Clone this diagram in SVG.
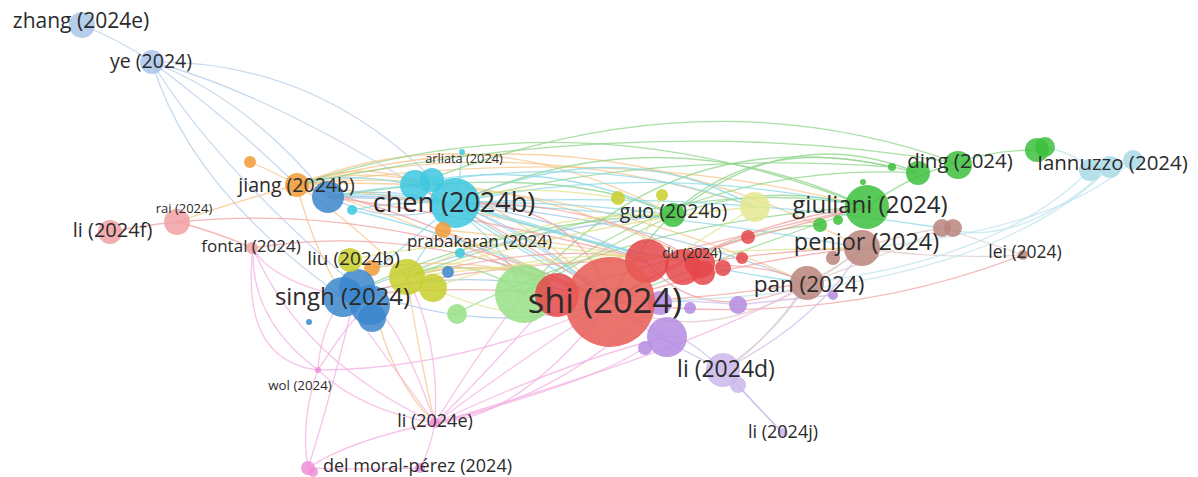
<svg xmlns="http://www.w3.org/2000/svg" width="1198" height="477" viewBox="0 0 1198 477">
<style>
.lbl{font-family:"Open Sans","Liberation Sans",sans-serif;fill:#2b2b2b;text-anchor:middle}
.c{fill-opacity:.85}
.lb{fill:#a9c6e8}.or{fill:#f29b36}.bu{fill:#3b87cc}.cy{fill:#3cc8e0}.ye{fill:#c8cf2c}
.lg{fill:#98e087}.gr{fill:#3cbf3c}.re{fill:#e5474a}.rr{fill:#e85a55}.pu{fill:#b48be0}
.la{fill:#cbb7ea}.br{fill:#b9857c}.ly{fill:#e4e88f}.pk{fill:#ef8fd8}.lr{fill:#f0a0a2}.lc{fill:#a8dbe8}
#connectors path{fill:none;stroke-width:1.3;stroke-opacity:.75}
.ebl{stroke:#b5cde8}.eor{stroke:#f6c58a}.egr{stroke:#8fd48a}.ecy{stroke:#8ad8e6}.ere{stroke:#f2a0a0}
.epk{stroke:#f3b0e3}.epu{stroke:#cdbbe9}.ebr{stroke:#dccac4}.eye{stroke:#e2e28a}.elc{stroke:#bfe3ec}.ebu{stroke:#9cc3e6}
</style>
<rect width="1198" height="477" fill="#ffffff"/>
<g id="connectors">
<path class="ebl" d="M82,25 Q120,40 152,62"/>
<path class="ebl" d="M152,62 Q330,60 455,203"/>
<path class="ebl" d="M152,62 Q250,100 328,197"/>
<path class="ebl" d="M152,62 Q230,120 297,185"/>
<path class="ebl" d="M152,62 Q190,190 343,297"/>
<path class="ebl" d="M152,62 Q260,90 415,185"/>
<path class="ebl" d="M152,62 Q210,160 357,287"/>
<path class="ebu" d="M328,197 Q470,170 610,302"/>
<path class="ebu" d="M328,197 Q400,230 455,203"/>
<path class="ebu" d="M328,197 Q500,190 645,260"/>
<path class="ebu" d="M343,297 Q480,260 610,302"/>
<path class="ebu" d="M357,287 Q480,340 610,302"/>
<path class="ebu" d="M343,297 Q500,230 673,215"/>
<path class="ebu" d="M328,197 Q600,200 807,283"/>
<path class="eor" d="M297,185 Q460,140 610,302"/>
<path class="eor" d="M297,185 Q480,110 673,215"/>
<path class="eor" d="M297,185 Q590,100 862,248"/>
<path class="eor" d="M297,185 Q560,170 807,283"/>
<path class="eor" d="M297,185 Q470,200 645,260"/>
<path class="eor" d="M297,185 Q310,240 343,297"/>
<path class="eor" d="M297,185 Q350,220 407,277"/>
<path class="eor" d="M250,162 Q270,170 297,185"/>
<path class="eor" d="M297,185 Q240,200 177,222"/>
<path class="eor" d="M297,185 Q520,130 755,207"/>
<path class="eor" d="M443,230 Q520,260 610,302"/>
<path class="eor" d="M297,185 Q380,150 455,203"/>
<path class="eor" d="M372,268 Q500,250 610,302"/>
<path class="eor" d="M373,300 Q390,380 435,423"/>
<path class="eor" d="M407,277 Q420,360 435,423"/>
<path class="eor" d="M297,185 Q450,230 557,295"/>
<path class="eor" d="M297,185 Q500,160 700,263"/>
<path class="eor" d="M443,230 Q560,240 645,260"/>
<path class="eor" d="M297,185 Q620,140 867,207"/>
<path class="egr" d="M867,207 Q660,110 455,203"/>
<path class="egr" d="M957,163 Q700,70 415,185"/>
<path class="egr" d="M867,207 Q580,90 297,185"/>
<path class="egr" d="M673,215 Q770,180 867,207"/>
<path class="egr" d="M918,173 Q790,120 673,215"/>
<path class="egr" d="M867,207 Q740,250 610,302"/>
<path class="egr" d="M673,215 Q500,220 343,297"/>
<path class="egr" d="M524,293 Q460,250 407,277"/>
<path class="egr" d="M524,293 Q620,240 673,215"/>
<path class="egr" d="M1037,150 Q990,150 957,163"/>
<path class="egr" d="M957,163 Q910,175 867,207"/>
<path class="egr" d="M820,225 Q720,230 610,302"/>
<path class="egr" d="M610,302 Q700,120 892,167"/>
<path class="egr" d="M524,293 Q680,110 918,173"/>
<path class="egr" d="M457,313 Q640,220 867,207"/>
<path class="egr" d="M673,215 Q560,160 328,197"/>
<path class="egr" d="M892,167 Q650,150 455,203"/>
<path class="egr" d="M918,173 Q700,160 524,294"/>
<path class="egr" d="M867,207 Q700,170 407,277"/>
<path class="egr" d="M957,163 Q650,110 297,185"/>
<path class="ecy" d="M455,203 Q540,240 610,302"/>
<path class="ecy" d="M455,203 Q400,250 343,297"/>
<path class="ecy" d="M455,203 Q390,190 328,197"/>
<path class="ecy" d="M455,203 Q560,200 673,215"/>
<path class="ecy" d="M455,203 Q560,230 645,260"/>
<path class="ecy" d="M455,203 Q660,210 862,248"/>
<path class="ecy" d="M455,203 Q430,240 407,277"/>
<path class="ecy" d="M415,185 Q360,190 328,197"/>
<path class="ecy" d="M415,185 Q520,250 610,302"/>
<path class="ecy" d="M455,203 Q650,160 867,207"/>
<path class="ecy" d="M462,152 Q460,180 455,203"/>
<path class="ecy" d="M352,210 Q400,200 455,203"/>
<path class="ecy" d="M460,253 Q530,270 610,302"/>
<path class="ecy" d="M455,203 Q640,260 807,283"/>
<path class="ecy" d="M415,185 Q340,170 297,185"/>
<path class="ecy" d="M455,203 Q620,130 755,207"/>
<path class="ecy" d="M455,203 Q600,250 700,263"/>
<path class="ecy" d="M455,203 Q560,280 660,303"/>
<path class="ecy" d="M432,180 Q560,160 673,215"/>
<path class="ecy" d="M415,185 Q600,150 755,207"/>
<path class="ecy" d="M455,203 Q700,190 942,228"/>
<path class="ecy" d="M352,210 Q480,240 610,302"/>
<path class="ecy" d="M415,185 Q500,230 524,294"/>
<path class="ere" d="M610,302 Q740,260 862,248"/>
<path class="ere" d="M610,302 Q700,300 807,283"/>
<path class="ere" d="M610,302 Q740,220 867,207"/>
<path class="ere" d="M610,302 Q480,280 343,297"/>
<path class="ere" d="M610,302 Q500,250 407,277"/>
<path class="ere" d="M610,302 Q420,220 253,248"/>
<path class="ere" d="M610,302 Q400,200 177,222"/>
<path class="ere" d="M177,222 Q145,225 110,232"/>
<path class="ere" d="M610,302 Q830,330 1023,255"/>
<path class="ere" d="M645,260 Q760,230 867,207"/>
<path class="ere" d="M700,263 Q780,250 862,248"/>
<path class="ere" d="M645,260 Q500,220 328,197"/>
<path class="ere" d="M700,263 Q600,200 455,203"/>
<path class="ere" d="M645,260 Q700,330 807,283"/>
<path class="ere" d="M253,248 Q210,230 177,222"/>
<path class="ere" d="M557,293 Q450,220 297,185"/>
<path class="ere" d="M610,302 Q580,200 455,203"/>
<path class="ere" d="M748,237 Q680,260 610,302"/>
<path class="ere" d="M557,293 Q700,250 867,207"/>
<path class="ere" d="M647,261 Q560,240 407,277"/>
<path class="ere" d="M610,302 Q560,260 415,185"/>
<path class="ere" d="M683,267 Q760,260 807,283"/>
<path class="ere" d="M647,261 Q500,260 343,297"/>
<path class="epk" d="M435,423 Q380,350 343,297"/>
<path class="epk" d="M435,423 Q520,360 610,302"/>
<path class="epk" d="M435,423 Q440,340 407,277"/>
<path class="epk" d="M435,423 Q480,350 524,293"/>
<path class="epk" d="M435,423 Q300,360 253,248"/>
<path class="epk" d="M435,423 Q360,410 318,370"/>
<path class="epk" d="M435,423 Q350,440 308,468"/>
<path class="epk" d="M435,423 Q430,450 420,468"/>
<path class="epk" d="M435,423 Q570,360 667,337"/>
<path class="epk" d="M318,370 Q320,330 343,297"/>
<path class="epk" d="M318,370 Q250,320 253,248"/>
<path class="epk" d="M318,370 Q300,420 308,468"/>
<path class="epk" d="M318,370 Q350,320 370,303"/>
<path class="epk" d="M308,468 Q360,470 420,468"/>
<path class="epk" d="M253,248 Q270,280 343,297"/>
<path class="epk" d="M318,370 Q460,370 610,302"/>
<path class="epk" d="M253,248 Q240,360 318,370"/>
<path class="epk" d="M435,423 Q600,380 645,347"/>
<path class="epk" d="M435,423 Q560,400 657,302"/>
<path class="epk" d="M435,423 Q400,320 357,287"/>
<path class="epk" d="M610,302 Q520,420 435,423"/>
<path class="epk" d="M557,293 Q480,380 435,423"/>
<path class="epk" d="M357,287 Q330,400 308,468"/>
<path class="epk" d="M435,423 Q720,340 807,283"/>
<path class="epu" d="M723,370 Q680,330 667,337"/>
<path class="epu" d="M723,370 Q640,330 610,302"/>
<path class="epu" d="M723,370 Q780,330 807,283"/>
<path class="epu" d="M723,370 Q760,410 783,433"/>
<path class="epu" d="M738,385 Q770,420 783,433"/>
<path class="epu" d="M667,337 Q640,320 610,302"/>
<path class="epu" d="M738,305 Q700,300 657,302"/>
<path class="epu" d="M723,370 Q820,320 862,248"/>
<path class="epu" d="M833,295 Q780,300 738,305"/>
<path class="epu" d="M660,303 Q620,300 557,295"/>
<path class="ebr" d="M862,248 Q940,260 1023,255"/>
<path class="ebr" d="M807,283 Q900,250 942,228"/>
<path class="ebr" d="M862,248 Q900,235 942,228"/>
<path class="ebr" d="M807,283 Q760,350 723,370"/>
<path class="ebr" d="M942,228 Q980,240 1023,255"/>
<path class="ebr" d="M807,283 Q850,260 862,248"/>
<path class="ebr" d="M610,302 Q720,360 862,248"/>
<path class="elc" d="M1090,170 Q1000,260 807,283"/>
<path class="elc" d="M1110,167 Q980,300 610,302"/>
<path class="elc" d="M1045,147 Q1080,155 1090,170"/>
<path class="elc" d="M1133,160 Q1060,230 862,248"/>
<path class="elc" d="M1110,167 Q1020,250 942,228"/>
<path class="eye" d="M407,277 Q500,250 610,302"/>
<path class="eye" d="M407,277 Q530,210 673,215"/>
<path class="eye" d="M755,207 Q680,250 610,302"/>
<path class="eye" d="M618,198 Q500,180 455,203"/>
<path class="eye" d="M662,195 Q640,250 610,302"/>
<path class="eye" d="M350,260 Q480,230 645,260"/>
<path class="eye" d="M407,277 Q600,220 755,207"/>
<path class="eye" d="M433,288 Q520,330 610,302"/>
<path class="eye" d="M433,288 Q560,240 700,263"/>
<path class="eye" d="M407,277 Q640,250 862,248"/>
</g>
<g id="n-bg-small">
<circle class="c or" cx="250" cy="162" r="6"/>
<circle class="c bu" cx="328" cy="197" r="16"/>
<circle class="c cy" cx="352" cy="210" r="5"/>
<circle class="c cy" cx="460" cy="253" r="5"/>
<circle class="c bu" cx="448" cy="272" r="6"/>
<circle class="c bu" cx="309" cy="322" r="3"/>
<circle class="c ye" cx="618" cy="198" r="7"/>
<circle class="c ye" cx="662" cy="195" r="6"/>
<circle class="c ly" cx="755" cy="207" r="15"/>
<circle class="c gr" cx="820" cy="225" r="7"/>
<circle class="c gr" cx="838" cy="220" r="5"/>
<circle class="c gr" cx="863" cy="182" r="3"/>
<circle class="c gr" cx="892" cy="167" r="4"/>
<circle class="c gr" cx="1037" cy="150" r="12"/>
<circle class="c gr" cx="1045" cy="147" r="10"/>
<circle class="c br" cx="833" cy="258" r="7"/>
<circle class="c br" cx="942" cy="228" r="9"/>
<circle class="c br" cx="953" cy="228" r="9"/>
<circle class="c pu" cx="833" cy="295" r="5"/>
<circle class="c pk" cx="420" cy="468" r="5"/>
</g>
<g id="n-yellow">
<circle class="c ye" cx="407" cy="277" r="18"/>
<circle class="c ye" cx="433" cy="288" r="14"/>
<circle class="c or" cx="372" cy="268" r="8"/>
</g>
<g id="n-lightgreen">
<circle class="c lg" cx="457" cy="314" r="10"/>
<circle class="c lg" cx="524" cy="294" r="29"/>
</g>
<g id="n-red-cluster">
<circle class="c re" cx="647" cy="261" r="22"/>
<circle class="c re" cx="683" cy="267" r="18"/>
<circle class="c re" cx="703" cy="273" r="12"/>
<circle class="c re" cx="723" cy="268" r="8"/>
<circle class="c re" cx="748" cy="237" r="7"/>
<circle class="c re" cx="742" cy="258" r="6"/>
<circle class="c re" cx="557" cy="295" r="22"/>
</g>
<g id="n-purple">
<circle class="c pu" cx="660" cy="303" r="12"/>
<circle class="c pu" cx="690" cy="308" r="6"/>
<circle class="c pu" cx="738" cy="305" r="9"/>
<circle class="c pu" cx="667" cy="337" r="20"/>
<circle class="c pu" cx="645" cy="348" r="7"/>
</g>
<g id="n-zhang"><circle class="c lb" cx="82" cy="25" r="13"/><text class="lbl" x="81" y="28" font-size="21">zhang (2024e)</text></g>
<g id="n-ye"><circle class="c lb" cx="152" cy="62" r="12"/><text class="lbl" x="151" y="68" font-size="19.5">ye (2024)</text></g>
<g id="n-jiang"><circle class="c or" cx="297" cy="185" r="12"/><text class="lbl" x="296.5" y="192" font-size="19.5">jiang (2024b)</text></g>
<g id="n-rai"><circle class="c lr" cx="177" cy="222" r="13"/><text class="lbl" x="184" y="213" font-size="13">rai (2024)</text></g>
<g id="n-lif"><circle class="c lr" cx="110" cy="232" r="12"/><text class="lbl" x="112.5" y="237" font-size="20">li (2024f)</text></g>
<g id="n-fontal"><circle class="c lr" cx="252" cy="248" r="6"/><text class="lbl" x="251" y="252" font-size="17">fontal (2024)</text></g>
<g id="n-chen"><circle class="c cy" cx="415" cy="185" r="15"/><circle class="c cy" cx="432" cy="180" r="12"/><circle class="c cy" cx="455" cy="203" r="25"/><text class="lbl" x="454" y="212" font-size="27">chen (2024b)</text></g>
<g id="n-arliata"><circle class="c cy" cx="462" cy="152" r="3"/><text class="lbl" x="464" y="163" font-size="12.8">arliata (2024)</text></g>
<g id="n-prabakaran"><circle class="c or" cx="443" cy="230" r="8"/><text class="lbl" x="479.5" y="247" font-size="17">prabakaran (2024)</text></g>
<g id="n-singh"><circle class="c bu" cx="357" cy="287" r="18"/><circle class="c bu" cx="343" cy="297" r="20"/><circle class="c bu" cx="370" cy="305" r="20"/><circle class="c bu" cx="372" cy="318" r="14"/><text class="lbl" x="342.5" y="305" font-size="24">singh (2024)</text></g>
<g id="n-liu"><circle class="c ye" cx="350" cy="260" r="12"/><text class="lbl" x="353.5" y="265" font-size="19">liu (2024b)</text></g>
<g id="n-guo"><circle class="c gr" cx="673" cy="215" r="12"/><text class="lbl" x="673.5" y="218" font-size="19.5">guo (2024b)</text></g>
<g id="n-du"><circle class="c re" cx="700" cy="263" r="15"/><text class="lbl" x="692" y="258" font-size="13.7">du (2024)</text></g>
<g id="n-shi"><circle class="c rr" cx="610" cy="302" r="45"/><text class="lbl" x="605" y="313" font-size="34.5">shi (2024)</text></g>
<g id="n-giuliani"><circle class="c gr" cx="867" cy="207" r="22"/><text class="lbl" x="870" y="213" font-size="24">giuliani (2024)</text></g>
<g id="n-penjor"><circle class="c br" cx="862" cy="248" r="18"/><text class="lbl" x="866.5" y="250" font-size="23.5">penjor (2024)</text></g>
<g id="n-pan"><circle class="c br" cx="807" cy="283" r="17"/><text class="lbl" x="809" y="292" font-size="22.5">pan (2024)</text></g>
<g id="n-ding"><circle class="c gr" cx="918" cy="173" r="12"/><circle class="c gr" cx="958" cy="165" r="14"/><text class="lbl" x="960" y="168" font-size="20.5">ding (2024)</text></g>
<g id="n-iannuzzo"><circle class="c lc" cx="1090" cy="170" r="11"/><circle class="c lc" cx="1110" cy="167" r="11"/><circle class="c lc" cx="1133" cy="160" r="10"/><text class="lbl" x="1112.5" y="170" font-size="20.5">Iannuzzo (2024)</text></g>
<g id="n-lei"><circle class="c br" cx="1023" cy="255" r="5"/><text class="lbl" x="1025" y="258" font-size="17.5">lei (2024)</text></g>
<g id="n-lid"><circle class="c la" cx="723" cy="370" r="17"/><circle class="c la" cx="738" cy="385" r="8"/><text class="lbl" x="726" y="377" font-size="23">li (2024d)</text></g>
<g id="n-lij"><circle class="c la" cx="783" cy="433" r="5"/><text class="lbl" x="783" y="438" font-size="18">li (2024j)</text></g>
<g id="n-wol"><circle class="c pk" cx="318" cy="370" r="3"/><text class="lbl" x="300" y="390" font-size="13.3">wol (2024)</text></g>
<g id="n-lie"><circle class="c pk" cx="435" cy="423" r="5"/><text class="lbl" x="435" y="427" font-size="18">li (2024e)</text></g>
<g id="n-delmoral"><circle class="c pk" cx="308" cy="468" r="7"/><circle class="c pk" cx="313" cy="472" r="5"/><text class="lbl" x="417.5" y="472" font-size="18">del moral-pérez (2024)</text></g>
</svg>
